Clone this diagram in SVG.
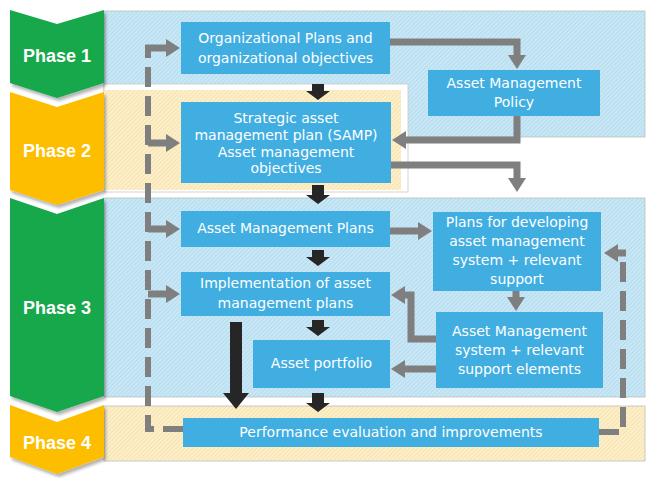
<svg xmlns="http://www.w3.org/2000/svg" width="646" height="478" viewBox="0 0 646 478">
<defs>
<pattern id="hb" width="3" height="3" patternUnits="userSpaceOnUse" patternTransform="rotate(45)">
<rect width="3" height="3" fill="#C9E7F5"/><rect width="1" height="3" fill="#B4DCEF"/>
</pattern>
<pattern id="hy" width="3" height="3" patternUnits="userSpaceOnUse" patternTransform="rotate(45)">
<rect width="3" height="3" fill="#FEEFC6"/><rect width="1" height="3" fill="#F3E2B6"/>
</pattern>
<marker id="ah" markerUnits="userSpaceOnUse" markerWidth="14" markerHeight="18" viewBox="0 0 14 18" refX="1" refY="9" orient="auto">
<path d="M0,0 L14,9 L0,18 Z" fill="#7F7F7F"/>
</marker>
<filter id="sh" x="-10%" y="-10%" width="130%" height="130%">
<feDropShadow dx="2" dy="3" stdDeviation="1.5" flood-color="#000" flood-opacity="0.3"/>
</filter>
</defs>
<style>
.node rect{fill:#41AEE2}
.node text{fill:#fff;font-family:"DejaVu Sans",Verdana,sans-serif;font-size:14px;text-anchor:middle}
.ph text{fill:#fff;font-family:"Liberation Sans",Arial,sans-serif;font-weight:bold;font-size:18px;text-anchor:middle}
.ga{fill:none;stroke:#7F7F7F;stroke-width:7;marker-end:url(#ah)}
.d{fill:none;stroke:#7F7F7F;stroke-width:6;stroke-dasharray:20 9}
.k{fill:#262626}
.band{stroke:#BDBDBD;stroke-width:0.8}
</style>
<rect width="646" height="478" fill="#fff"/>
<g id="bands">
<rect class="band" x="104" y="11" width="541" height="126" fill="url(#hb)"/>
<rect x="104" y="84" width="304" height="108" fill="#fff" stroke="#C8C8C8" stroke-width="0.8"/>
<rect x="104" y="90" width="297" height="100" fill="url(#hy)"/>
<rect class="band" x="104" y="198" width="541" height="199" fill="url(#hb)"/>
<rect class="band" x="104" y="406" width="541" height="55" fill="url(#hy)"/>
</g>
<g id="phase1" class="ph">
<polygon points="10,10 57,24 104,10 104,83 57,98 10,83" fill="#13A84B" filter="url(#sh)"/>
<text x="57" y="62">Phase 1</text>
</g>
<g id="phase2" class="ph">
<polygon points="10,92 57,107 104,92 104,190 57,205 10,190" fill="#FDBE00" filter="url(#sh)"/>
<text x="57" y="157">Phase 2</text>
</g>
<g id="phase3" class="ph">
<polygon points="10,198 57,214 104,198 104,396 57,412 10,396" fill="#13A84B" filter="url(#sh)"/>
<text x="57" y="314">Phase 3</text>
</g>
<g id="phase4" class="ph">
<polygon points="10,405 57,422 104,405 104,457 57,474 10,457" fill="#FDBE00" filter="url(#sh)"/>
<text x="57" y="449">Phase 4</text>
</g>
<g id="connectors">
<path class="ga" d="M390,42 H517 V56"/>
<path class="ga" d="M517,116 V140 H405"/>
<path class="ga" d="M391,165 H517 V179"/>
<path class="ga" d="M390,231 H419"/>
<path class="ga" d="M516,291 V298"/>
<path class="ga" d="M436,339 H411 V295 H404"/>
<path class="ga" d="M436,369 H404"/>
<path class="d" d="M183,429 H148 V48"/>
<path class="ga" d="M145,48 H167"/>
<path class="ga" d="M148,143 H167"/>
<path class="ga" d="M148,229 H167"/>
<path class="ga" d="M148,294 H167"/>
<path class="d" d="M599,432 H623 V253"/>
<path class="ga" d="M626,253 H617"/>
<polygon class="k" points="312,84 324,84 324,91 330,91 318,100 306,91 312,91"/>
<polygon class="k" points="312,185 324,185 324,195 330,195 318,204 306,195 312,195"/>
<polygon class="k" points="312,250 324,250 324,257 330,257 318,266 306,257 312,257"/>
<polygon class="k" points="312,320 324,320 324,327 330,327 318,336 306,327 312,327"/>
<polygon class="k" points="312,393 324,393 324,403 330,403 318,412 306,403 312,403"/>
<polygon class="k" points="230,322 242,322 242,393 249,393 236,409 223,393 230,393"/>
</g>
<g id="org" class="node">
<rect x="181" y="22" width="209" height="52"/>
<text x="285.5" y="43">Organizational Plans and</text>
<text x="285.5" y="63">organizational objectives</text>
</g>
<g id="policy" class="node">
<rect x="428" y="70" width="172" height="46"/>
<text x="514" y="88">Asset Management</text>
<text x="514" y="107">Policy</text>
</g>
<g id="samp" class="node">
<rect x="181" y="102" width="210" height="81"/>
<text x="286" y="123">Strategic asset</text>
<text x="286" y="140">management plan (SAMP)</text>
<text x="286" y="157">Asset management</text>
<text x="286" y="173">objectives</text>
</g>
<g id="amplans" class="node">
<rect x="181" y="211" width="209" height="36"/>
<text x="285.5" y="233">Asset Management Plans</text>
</g>
<g id="impl" class="node">
<rect x="181" y="272" width="209" height="44"/>
<text x="285.5" y="288">Implementation of asset</text>
<text x="285.5" y="308">management plans</text>
</g>
<g id="portfolio" class="node">
<rect x="253" y="340" width="137" height="48"/>
<text x="321.5" y="368">Asset portfolio</text>
</g>
<g id="plansdev" class="node">
<rect x="433" y="212" width="168" height="79"/>
<text x="517" y="227">Plans for developing</text>
<text x="517" y="246">asset management</text>
<text x="517" y="265">system + relevant</text>
<text x="517" y="284">support</text>
</g>
<g id="amsystem" class="node">
<rect x="436" y="312" width="167" height="76"/>
<text x="519.5" y="336">Asset Management</text>
<text x="519.5" y="355">system + relevant</text>
<text x="519.5" y="374">support elements</text>
</g>
<g id="perf" class="node">
<rect x="183" y="418" width="416" height="29"/>
<text x="391" y="437">Performance evaluation and improvements</text>
</g>
</svg>
